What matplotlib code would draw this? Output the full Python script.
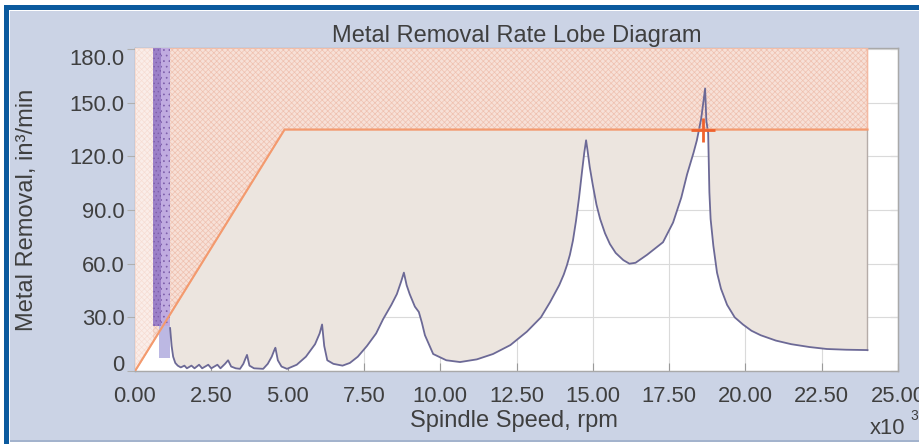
import matplotlib
matplotlib.use("Agg")
import matplotlib.pyplot as plt
from matplotlib.patches import Polygon, Rectangle

# ---------------- data ----------------
speed_k = [1.15, 1.20, 1.25, 1.32, 1.40, 1.50, 1.62, 1.70, 1.85, 1.95,
           2.10, 2.20, 2.40, 2.50, 2.70, 2.80, 2.95, 3.05, 3.15, 3.30,
           3.44, 3.55, 3.62, 3.67, 3.75, 3.90, 4.20, 4.35, 4.48, 4.56,
           4.60, 4.68, 4.80, 4.98, 5.30, 5.60, 5.90, 6.05, 6.13, 6.20,
           6.30, 6.50, 6.80, 7.04, 7.30, 7.60, 7.90, 8.13, 8.40, 8.58,
           8.72, 8.81, 8.90, 9.00, 9.17, 9.30, 9.40, 9.50, 9.77, 10.20,
           10.65, 11.20, 11.73, 12.30, 12.84, 13.30, 13.60, 13.90, 14.05, 14.15,
           14.25, 14.35, 14.45, 14.55, 14.65, 14.72, 14.78, 14.83, 14.90, 15.00,
           15.12, 15.24, 15.40, 15.56, 15.75, 16.00, 16.20, 16.40, 16.78, 17.30,
           17.63, 17.90, 18.09, 18.30, 18.41, 18.55, 18.62, 18.68, 18.72, 18.78,
           18.82, 18.86, 18.95, 19.07, 19.20, 19.40, 19.65, 19.92, 20.20, 20.50,
           21.00, 21.50, 22.10, 22.67, 23.30, 24.00]
mrr = [24.0, 14.0, 8.0, 4.5, 3.0, 2.0, 3.0, 1.5, 3.0, 1.5,
       3.5, 1.5, 3.5, 1.5, 3.5, 1.5, 4.0, 6.0, 2.5, 1.5,
       1.2, 4.0, 7.0, 9.0, 3.0, 1.5, 1.2, 4.0, 8.0, 11.5,
       13.0, 6.0, 2.5, 1.2, 3.5, 8.0, 15.0, 21.0, 26.0, 14.0,
       6.0, 4.0, 3.0, 4.5, 8.0, 14.0, 21.0, 29.0, 37.0, 43.0,
       50.0, 55.0, 48.0, 43.0, 36.0, 33.0, 27.0, 20.0, 9.5, 6.0,
       5.0, 6.5, 9.5, 14.5, 22.0, 30.0, 38.5, 48.0, 54.0, 59.0,
       65.0, 73.0, 84.0, 97.0, 112.0, 122.0, 129.0, 123.0, 114.0, 104.0,
       93.0, 85.0, 77.0, 71.0, 66.0, 62.0, 60.0, 60.5, 65.0, 72.0,
       83.0, 97.0, 110.0, 122.0, 129.0, 141.0, 150.0, 158.0, 140.0, 133.0,
       100.0, 85.0, 70.0, 55.0, 46.0, 37.0, 30.0, 26.0, 22.5, 20.0,
       17.0, 15.0, 13.4, 12.3, 11.9, 11.7]

# machine limit (power / max MRR) boundary
limit_speed = [0.0, 4.9, 24.0]
limit_mrr = [0.0, 135.0, 135.0]

# dense low-speed lobe band
band_lo = [0.59, 0.85, 0.78]
band_hi = [0.85, 1.15, 1.15]
band_bottom = [25.0, 25.0, 7.0]
band_top = [180.6, 180.6, 25.0]

marker_speed = [18.6]
marker_mrr = [135.0]

x_ticks = [0, 2.5, 5, 7.5, 10, 12.5, 15, 17.5, 20, 22.5, 25]
x_tick_labels = ["0.00", "2.50", "5.00", "7.50", "10.00", "12.50",
                 "15.00", "17.50", "20.00", "22.50", "25.00"]
y_ticks = [0, 30, 60, 90, 120, 150, 180]
y_tick_labels = ["0", "30.0", "60.0", "90.0", "120.0", "150.0", "180.0"]

X_MAX = 25.0
Y_MAX = 180.6

# ---------------- style ----------------
plt.rcParams['font.family'] = ['Liberation Sans', 'DejaVu Sans']
plt.rcParams['hatch.linewidth'] = 0.5

W, H = 919, 444
BG = '#cbd3e5'
TXT = '#3f3f3f'


def fx(px):
    return px / W


def fy(py):
    return 1 - py / H


fig = plt.figure(figsize=(W / 100, H / 100), dpi=100, facecolor='white')
# panel background and blue frame
fig.patches.append(Rectangle((fx(10), fy(440)), fx(W) - fx(10), fy(11) - fy(440),
                             transform=fig.transFigure, facecolor=BG, edgecolor='none', zorder=-5))
fig.patches.append(Rectangle((fx(4), fy(H)), fx(5), fy(5) - fy(H),
                             transform=fig.transFigure, facecolor='#0b5a9e', edgecolor='none', zorder=-4))
fig.patches.append(Rectangle((fx(4), fy(10)), 1 - fx(4), fy(5) - fy(10),
                             transform=fig.transFigure, facecolor='#0b5a9e', edgecolor='none', zorder=-4))
fig.patches.append(Rectangle((fx(10), fy(442)), 1 - fx(10), fy(440) - fy(442),
                             transform=fig.transFigure, facecolor='#a3b3cd', edgecolor='none', zorder=-4))

ax = fig.add_axes([fx(135), fy(371), fx(898) - fx(135), (371 - 48) / H])
ax.set_facecolor('white')
ax.set_xlim(0, X_MAX)
ax.set_ylim(0, Y_MAX)
ax.set_axisbelow(True)
ax.grid(True, color='#dadada', lw=0.8)

# beige zone: below limit line, above the lobe curve
beige = Polygon(list(zip(limit_speed, limit_mrr)) + [(limit_speed[-1], 0.0), (0.0, 0.0)],
                closed=True, facecolor='#ece5df', edgecolor='none', zorder=2)
ax.add_patch(beige)
above_curve = Polygon([(speed_k[0], 300.0)] + list(zip(speed_k, mrr)) + [(speed_k[-1], 300.0)],
                      closed=True, transform=ax.transData)
beige.set_clip_path(above_curve)

# hatched region above limit
hatch_pts = list(zip(limit_speed, limit_mrr)) + [(limit_speed[-1], Y_MAX), (0.0, Y_MAX)]
ax.add_patch(Polygon(hatch_pts, closed=True, facecolor='#f7e0d7', edgecolor='#efc1b0',
                     hatch='xxxxxx', lw=0, zorder=3))
ax.add_patch(Polygon(hatch_pts, closed=True, fill=False, edgecolor='#f3b9a2', lw=1.2, zorder=3.5))
# lighter strip at the far left of hatched area
ax.add_patch(Polygon([(0.0, 0.0), (band_lo[0], limit_mrr[1] * band_lo[0] / limit_speed[1]),
                      (band_lo[0], Y_MAX), (0.0, Y_MAX)], closed=True,
                     facecolor='white', alpha=0.45, edgecolor='none', zorder=3.6))

# dense lobe band
band_face = ['#9c80c8', '#c0abe0', '#bcb8e3']
band_hatch = ['....', '...', None]
for lo, hi, b, t, fc, hp in zip(band_lo, band_hi, band_bottom, band_top, band_face, band_hatch):
    ax.add_patch(Rectangle((lo, b), hi - lo, t - b, facecolor=fc,
                           edgecolor='#7d5eaa' if hp else 'none', hatch=hp, lw=0, zorder=4))

# limit line
ax.plot(limit_speed, limit_mrr, color='#f39a6e', lw=1.5, zorder=6)
# right edge of beige zone
ax.plot([speed_k[-1], speed_k[-1]], [mrr[-1], limit_mrr[-1]], color='#b5aca8', lw=1.0, zorder=5)

# lobe curve
ax.plot(speed_k, mrr, color='#6c6996', lw=1.3, zorder=5)

# operating point
ax.plot(marker_speed, marker_mrr, marker='+', ms=17, mew=2, color='#f0622d', zorder=7, ls='none')

# axes styling
for s in ax.spines.values():
    s.set_color('#a9a9a9')
    s.set_linewidth(1.0)

ax.set_xticks(x_ticks)
ax.set_xticklabels(x_tick_labels)
ax.set_yticks(y_ticks)
ax.set_yticklabels(y_tick_labels)
ax.tick_params(axis='x', direction='in', length=6, color='#9a9a9a', labelsize=15.8,
               labelcolor=TXT, pad=11)
ax.tick_params(axis='y', direction='out', length=6, color='#b0b0b0', labelsize=15.8,
               labelcolor=TXT, pad=1.5)
yt = ax.yaxis.get_major_ticks()
yt[0].label1.set_va('baseline')
yt[-1].label1.set_va('top')

sec = ax.secondary_yaxis('right')
sec.set_yticks(y_ticks)
sec.tick_params(direction='in', length=6, color='#9a9a9a', labelright=False)
sec.spines['right'].set_color('#a9a9a9')

# texts
fig.text(fx(517), fy(42), 'Metal Removal Rate Lobe Diagram', ha='center', va='baseline',
         fontsize=17, color=TXT)
fig.text(fx(514), fy(427), 'Spindle Speed, rpm', ha='center', va='baseline',
         fontsize=17, color=TXT)
fig.text(fx(27), fy(210), 'Metal Removal, in\u00b3/min', ha='center', va='center',
         rotation=90, fontsize=17, color=TXT)
fig.text(fx(870), fy(434), 'x10', ha='left', va='baseline', fontsize=15.8, color=TXT)
fig.text(fx(910), fy(420), '3', ha='left', va='baseline', fontsize=10, color=TXT)

fig.savefig('out.png', dpi=100, facecolor=fig.get_facecolor())
